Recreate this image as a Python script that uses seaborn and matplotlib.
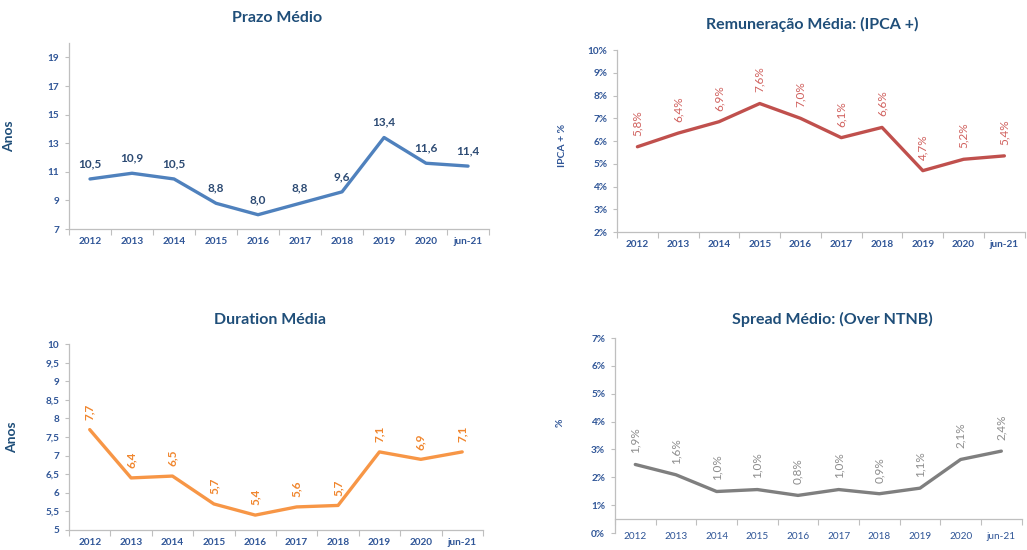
import matplotlib
matplotlib.use("Agg")
import matplotlib.pyplot as plt
import seaborn as sns
import pandas as pd
import numpy as np

anos = ["2012", "2013", "2014", "2015", "2016", "2017", "2018", "2019", "2020", "jun-21"]

prazo = [10.5, 10.9, 10.5, 8.8, 8.0, 8.8, 9.6, 13.4, 11.6, 11.4]
remuneracao = [5.75, 6.35, 6.85, 7.65, 7.0, 6.15, 6.6, 4.7, 5.2, 5.35]
remuneracao_lbl = ["5,8%", "6,4%", "6,9%", "7,6%", "7,0%", "6,1%", "6,6%", "4,7%", "5,2%", "5,4%"]
duration = [7.7, 6.4, 6.45, 5.7, 5.4, 5.62, 5.66, 7.1, 6.9, 7.1]
duration_lbl = ["7,7", "6,4", "6,5", "5,7", "5,4", "5,6", "5,7", "7,1", "6,9", "7,1"]
# the spread line sits above its labels in the original chart
spread = [2.46, 2.09, 1.49, 1.56, 1.35, 1.56, 1.41, 1.61, 2.64, 2.94]
spread_lbl = ["1,9%", "1,6%", "1,0%", "1,0%", "0,8%", "1,0%", "0,9%", "1,1%", "2,1%", "2,4%"]

sns.set_theme(style="white")
plt.rcParams["font.family"] = ["Lato", "DejaVu Sans"]

title_col = "#1F4E79"
tick_col = "#2F5597"
spine_col = "#BFBFBF"

fig = plt.figure(figsize=(10.27, 5.5), dpi=100)


def panel(rect, vals, color, yticks, ylabels, lw=2.4):
    ax = fig.add_axes(rect)
    df = pd.DataFrame({"x": np.arange(len(anos)), "y": vals})
    sns.lineplot(data=df, x="x", y="y", ax=ax, color=color, linewidth=lw, sort=False)
    ax.set_xlim(-0.5, len(anos) - 0.5)
    ax.set_ylim(yticks[0], yticks[-1])
    ax.set_xticks(np.arange(len(anos)))
    ax.set_xticklabels(anos, fontweight="bold")
    ax.set_yticks(yticks)
    ax.set_yticklabels(ylabels, fontweight="bold")
    ax.set_xticks(np.arange(-0.5, len(anos)), minor=True)
    ax.tick_params(axis="x", which="major", length=0, pad=6, labelsize=7.2, labelcolor=tick_col)
    ax.tick_params(axis="x", which="minor", length=4, color=spine_col, width=0.8, direction="out", bottom=True)
    ax.tick_params(axis="y", length=3, color=spine_col, width=0.8, direction="out", left=True,
                   labelsize=7.2, labelcolor=tick_col, pad=4)
    for s in ["top", "right"]:
        ax.spines[s].set_visible(False)
    for s in ["left", "bottom"]:
        ax.spines[s].set_color(spine_col)
        ax.spines[s].set_linewidth(0.9)
    ax.set_xlabel("")
    ax.set_ylabel("")
    return ax


# Prazo Medio
yt1 = [7, 9, 11, 13, 15, 17, 19]
ax1 = panel([0.0672, 0.5836, 0.409, 0.338], prazo, "#4F81BD", yt1, [str(t) for t in yt1])
ax1.set_ylim(7, 20)
for i, v in enumerate(prazo):
    ax1.annotate(f"{v:.1f}".replace(".", ","), (i, v), xytext=(0, 7), textcoords="offset points",
                 ha="center", va="bottom", fontsize=8.5, fontweight="bold", color="#2C4A73")
ax1.set_ylabel("Anos", fontsize=10, fontweight="bold", color=title_col)
ax1.yaxis.set_label_coords(-0.129, 0.5)

# Remuneracao Media
yt2 = list(range(2, 11))
ax2 = panel([0.6008, 0.578, 0.397, 0.331], remuneracao, "#C0504D", yt2, [f"{t}%" for t in yt2])
for i, v in enumerate(remuneracao):
    ax2.annotate(remuneracao_lbl[i], (i, v), xytext=(0, 8), textcoords="offset points", rotation=90,
                 ha="center", va="bottom", fontsize=8.5, color="#D0605D")
ax2.set_ylabel("IPCA + %", fontsize=7.5, fontweight="bold", color=tick_col)
ax2.yaxis.set_label_coords(-0.123, 0.478)

# Duration Media
yt3 = list(np.arange(5, 10.01, 0.5))
ax3 = panel([0.0672, 0.0364, 0.403, 0.338], duration, "#F79646", yt3,
            [(f"{t:g}").replace(".", ",") for t in yt3])
for i, v in enumerate(duration):
    ax3.annotate(duration_lbl[i], (i, v), xytext=(0, 7), textcoords="offset points", rotation=90,
                 ha="center", va="bottom", fontsize=8.5, fontweight="bold", color="#F0862E")
ax3.set_ylabel("Anos", fontsize=10, fontweight="bold", color=title_col)
ax3.yaxis.set_label_coords(-0.123, 0.5)

# Spread Medio
yt4 = list(range(0, 8))
ax4 = panel([0.5988, 0.0309, 0.396, 0.3545], spread, "#7F7F7F", yt4, [f"{t}%" for t in yt4])
ax4.spines["bottom"].set_position(("data", 0.5))
ax4.tick_params(axis="x", which="major", pad=9)
for i, v in enumerate(spread):
    ax4.annotate(spread_lbl[i], (i, v), xytext=(0, 8), textcoords="offset points", rotation=90,
                 ha="center", va="bottom", fontsize=8.5, color="#8C8C8C")
ax4.set_ylabel("%", fontsize=7.5, fontweight="bold", color=tick_col)
ax4.yaxis.set_label_coords(-0.123, 0.564)

W, H = 1027, 550
for txt, x, y in [("Prazo Médio", 277, 18), ("Remuneração Média: (IPCA +)", 812, 24),
                  ("Duration Média", 270, 320), ("Spread Médio: (Over NTNB)", 832, 319)]:
    fig.text(x / W, 1 - y / H, txt, ha="center", va="center", fontsize=11.5,
             fontweight="bold", color=title_col)

fig.savefig("out.png", dpi=100)
